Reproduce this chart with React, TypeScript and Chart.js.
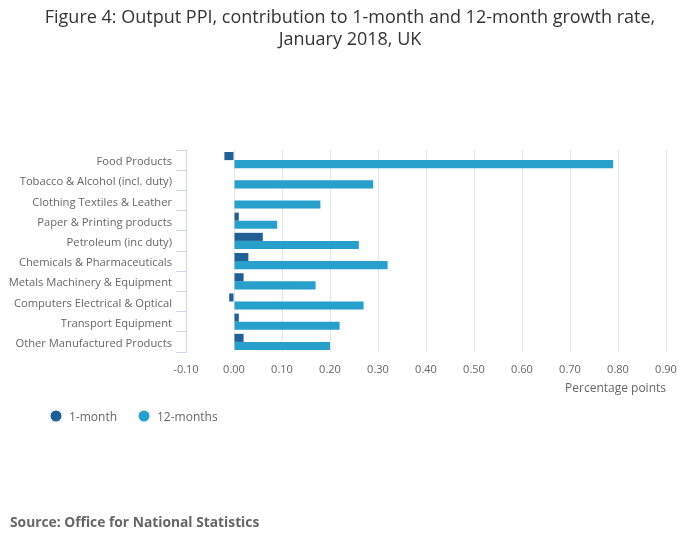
import { useEffect, useRef } from "react"
import { Chart, registerables, type ChartConfiguration, type Plugin } from "chart.js"

Chart.register(...registerables)

const categories = [
  "Food Products",
  "Tobacco & Alcohol (incl. duty)",
  "Clothing Textiles & Leather",
  "Paper & Printing products",
  "Petroleum (inc duty)",
  "Chemicals & Pharmaceuticals",
  "Metals Machinery & Equipment",
  "Computers Electrical & Optical",
  "Transport Equipment",
  "Other Manufactured Products",
]

const oneMonth = [-0.02, 0, 0, 0.01, 0.06, 0.03, 0.02, -0.01, 0.01, 0.02]
const twelveMonths = [0.79, 0.29, 0.18, 0.09, 0.26, 0.32, 0.17, 0.27, 0.22, 0.2]

const seriesNames = ["1-month", "12-months"]
const seriesColors = ["#206095", "#27a0cc"]

const titleLines = [
  "Figure 4: Output PPI, contribution to 1-month and 12-month growth rate,",
  "January 2018, UK",
]
const sourceText = "Source: Office for National Statistics"

const FONT = "'Open Sans', sans-serif"

// title, legend and source note drawn straight onto the canvas
const extrasPlugin: Plugin<"bar"> = {
  id: "extras",
  afterDraw(chart) {
    const ctx = chart.ctx
    ctx.save()
    ctx.fillStyle = "#333333"
    ctx.font = `18px ${FONT}`
    ctx.textAlign = "center"
    ctx.textBaseline = "middle"
    titleLines.forEach((line, i) => ctx.fillText(line, 350, 18 + i * 22))

    // legend
    ctx.font = `12px ${FONT}`
    ctx.textAlign = "left"
    const starts = [56, 144]
    seriesNames.forEach((name, i) => {
      ctx.fillStyle = seriesColors[i]
      ctx.beginPath()
      ctx.arc(starts[i], 416, 5.5, 0, Math.PI * 2)
      ctx.fill()
      ctx.fillStyle = "#666666"
      ctx.fillText(name, starts[i] + 13, 418)
    })

    ctx.font = `bold 13.8px ${FONT}`
    ctx.fillStyle = "#666666"
    ctx.fillText(sourceText, 10, 523)
    ctx.restore()
  },
}

export default function App() {
  const canvasRef = useRef<HTMLCanvasElement>(null)

  useEffect(() => {
    if (!canvasRef.current) return

    const config: ChartConfiguration<"bar"> = {
      type: "bar",
      data: {
        labels: categories,
        datasets: [
          {
            label: seriesNames[0],
            data: oneMonth,
            backgroundColor: seriesColors[0],
            categoryPercentage: 0.8,
            barPercentage: 1,
          },
          {
            label: seriesNames[1],
            data: twelveMonths,
            backgroundColor: seriesColors[1],
            categoryPercentage: 0.8,
            barPercentage: 1,
          },
        ],
      },
      options: {
        indexAxis: "y",
        responsive: false,
        animation: false,
        layout: { padding: { top: 150, left: 0, right: 34, bottom: 153 } },
        plugins: {
          legend: { display: false },
          title: { display: false },
          tooltip: { enabled: false },
        },
        scales: {
          x: {
            min: -0.1,
            max: 0.9,
            border: { display: false },
            grid: {
              color: (c) => (c.tick && c.tick.value < -0.05 ? "rgba(0,0,0,0)" : "#e6e6e6"),
              drawTicks: false,
            },
            ticks: {
              stepSize: 0.1,
              padding: 11,
              color: "#666666",
              font: { family: FONT, size: 11 },
              callback: (v) => Number(v).toFixed(2),
            },
            title: {
              display: true,
              text: "Percentage points",
              align: "end",
              color: "#666666",
              font: { family: FONT, size: 12 },
              padding: { top: 4, bottom: 0 },
            },
            afterFit: (scale) => {
              scale.height = 44
            },
          },
          y: {
            border: { display: true, color: "#ccd6eb", width: 1 },
            grid: {
              offset: true,
              drawOnChartArea: false,
              drawTicks: true,
              tickLength: 10,
              color: "#ccd6eb",
            },
            ticks: {
              padding: 4,
              labelOffset: 2,
              color: "#666666",
              font: { family: FONT, size: 11.2 },
              autoSkip: false,
            },
            afterFit: (scale) => {
              scale.width = 186
            },
          },
        },
      },
      plugins: [extrasPlugin],
    }

    const chart = new Chart(canvasRef.current, config)
    return () => chart.destroy()
  }, [])

  return (
    <div style={{ position: "fixed", left: 0, top: 0, width: 700, height: 549, background: "#fff" }}>
      <canvas ref={canvasRef} width={700} height={549} />
    </div>
  )
}
